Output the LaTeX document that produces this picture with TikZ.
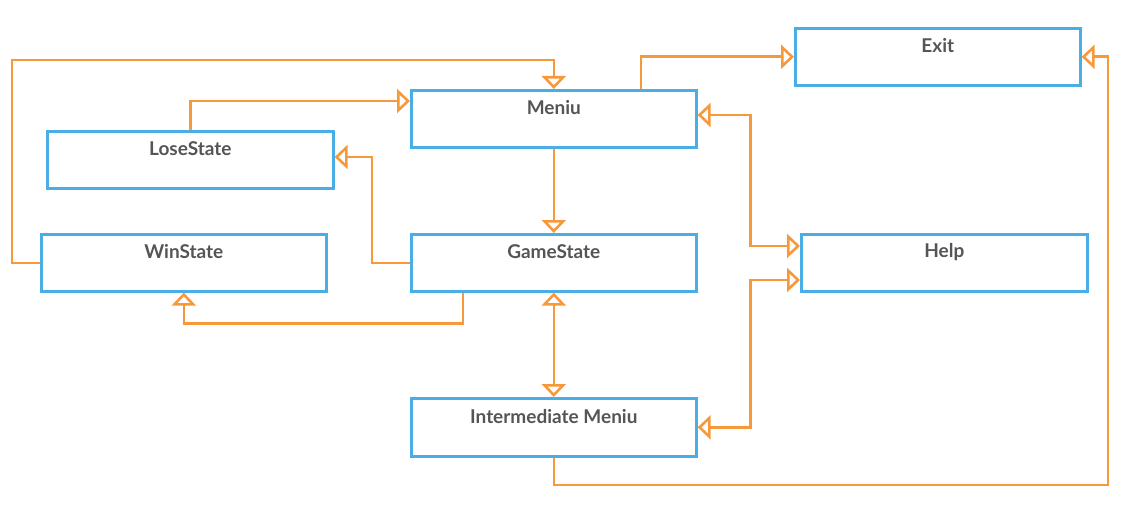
\documentclass[tikz,border=0pt]{standalone}
\usepackage{fontspec}
\setmainfont{Lato}
\usetikzlibrary{arrows.meta,calc}
\definecolor{lorange}{RGB}{247,153,58}
\definecolor{lblue}{RGB}{74,174,230}
\definecolor{ltext}{RGB}{85,85,85}
\begin{document}
\begin{tikzpicture}[x=1pt,y=-1pt,
  box/.style={draw=lblue, line width=2.6pt, minimum width=285pt, minimum height=57pt, anchor=north west, inner sep=0pt},
  lbl/.style={yshift=11pt, font=\bfseries\fontsize{19}{22}\selectfont, text=ltext},
  tip/.tip={Triangle[open, length=13pt, width=24pt, fill=white]},
  conn/.style={draw=lorange, line width=2.6pt, -tip},
  dconn/.style={draw=lorange, line width=2.6pt, tip-tip}
]
\useasboundingbox (0,0) rectangle (1125,508);
\node[box, label={[lbl]center:Exit}] (exit) at (794,27) {};
\node[box, label={[lbl]center:Meniu}] (meniu) at (410,89) {};
\node[box, minimum width=286pt, label={[lbl]center:LoseState}] (lose) at (46,130) {};
\node[box, label={[lbl]center:WinState}] (win) at (40,233) {};
\node[box, label={[lbl]center:GameState}] (game) at (410,233) {};
\node[box, minimum width=286pt, label={[lbl]center:Help}] (help) at (800,233) {};
\node[box, minimum height=58pt, label={[lbl]center:Intermediate Meniu}] (inter) at (410,397) {};

\draw[conn] (win.west) -| (12,60) -| (meniu.north);
\draw[conn] (lose.north) |- ($(meniu.north west)+(0,12)$);
\draw[conn] ($(meniu.north west)+(231,0)$) |- (exit.west);
\draw[conn] (meniu.south) -- (game.north);
\draw[dconn] ($(meniu.north east)+(0,26)$) -- ++(53,0) |- ($(help.north west)+(0,13)$);
\draw[dconn] (inter.east) -- ++(53,0) |- ($(help.north west)+(0,47)$);
\draw[conn] (game.west) -- ++(-38,0) |- ($(lose.north east)+(0,27)$);
\draw[conn] ($(game.south west)+(53,0)$) -- ++(0,31) -| (win.south);
\draw[dconn] (game.south) -- (inter.north);
\draw[conn] (inter.south) |- (1108,485) |- (exit.east);
\end{tikzpicture}
\end{document}
